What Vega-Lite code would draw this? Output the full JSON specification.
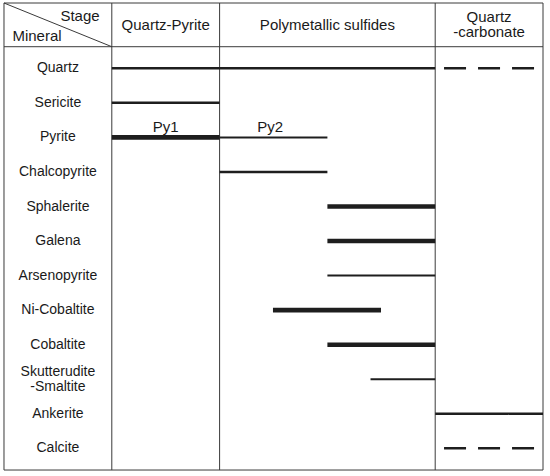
{
  "$schema": "https://vega.github.io/schema/vega-lite/v6.json",
  "width": 550,
  "height": 476,
  "autosize": {"type": "fit", "contains": "padding"},
  "padding": 0,
  "background": "white",
  "config": {"view": {"stroke": null}, "font": "Liberation Sans"},
  "datasets": {
    "grid": [
      {"part": "top", "x": 0, "x2": 5, "y": -1.89, "y2": -1.89},
      {"part": "bottom", "x": 0, "x2": 5, "y": 11.627, "y2": 11.627},
      {"part": "header", "x": 0, "x2": 5, "y": -0.625, "y2": -0.625},
      {"part": "left", "x": 0, "x2": 0, "y": -1.89, "y2": 11.627},
      {"part": "stage1", "x": 1, "x2": 1, "y": -1.89, "y2": 11.627},
      {"part": "stage2", "x": 2, "x2": 2, "y": -1.89, "y2": 11.627},
      {"part": "stage3", "x": 4, "x2": 4, "y": -1.89, "y2": 11.627},
      {"part": "right", "x": 5, "x2": 5, "y": -1.89, "y2": 11.627},
      {"part": "diagonal", "x": 0, "x2": 1, "y": -1.89, "y2": -0.625}
    ],
    "minerals": [
      {"mineral": "Quartz", "row": 0},
      {"mineral": "Sericite", "row": 1},
      {"mineral": "Pyrite", "row": 2},
      {"mineral": "Chalcopyrite", "row": 3},
      {"mineral": "Sphalerite", "row": 4},
      {"mineral": "Galena", "row": 5},
      {"mineral": "Arsenopyrite", "row": 6},
      {"mineral": "Ni-Cobaltite", "row": 7},
      {"mineral": "Cobaltite", "row": 8},
      {"mineral": "Ankerite", "row": 10},
      {"mineral": "Calcite", "row": 11}
    ],
    "bars": [
      {"mineral": "Quartz", "row": 0, "start": 1, "end": 4, "weight": "thin", "style": "solid"},
      {"mineral": "Quartz", "row": 0, "start": 4.082, "end": 4.92, "weight": "thin", "style": "dashed"},
      {"mineral": "Sericite", "row": 1, "start": 1, "end": 2, "weight": "thin", "style": "solid"},
      {"mineral": "Pyrite", "row": 2, "start": 1, "end": 2, "weight": "thick", "style": "solid"},
      {"mineral": "Pyrite", "row": 2, "start": 2, "end": 3, "weight": "fine", "style": "solid"},
      {"mineral": "Chalcopyrite", "row": 3, "start": 2, "end": 3, "weight": "thin", "style": "solid"},
      {"mineral": "Sphalerite", "row": 4, "start": 3, "end": 4, "weight": "thick", "style": "solid"},
      {"mineral": "Galena", "row": 5, "start": 3, "end": 4, "weight": "thick", "style": "solid"},
      {"mineral": "Arsenopyrite", "row": 6, "start": 3, "end": 4, "weight": "fine", "style": "solid"},
      {"mineral": "Ni-Cobaltite", "row": 7, "start": 2.495, "end": 3.497, "weight": "thick", "style": "solid"},
      {"mineral": "Cobaltite", "row": 8, "start": 3, "end": 4, "weight": "thick", "style": "solid"},
      {"mineral": "Skutterudite-Smaltite", "row": 9, "start": 3.4, "end": 4, "weight": "fine", "style": "solid"},
      {"mineral": "Ankerite", "row": 10, "start": 4, "end": 5, "weight": "thin", "style": "solid"},
      {"mineral": "Calcite", "row": 11, "start": 4.082, "end": 4.92, "weight": "thin", "style": "dashed"}
    ]
  },
  "layer": [
    {
      "data": {"name": "grid"},
      "mark": {"type": "rule", "color": "#3a3a3a", "strokeWidth": 1},
      "encoding": {
        "x": {"field": "x", "type": "quantitative", "scale": {"domain": [-0.0371, 5.0649], "nice": false, "zero": false}, "axis": null},
        "x2": {"field": "x2"},
        "y": {"field": "y", "type": "quantitative", "scale": {"domain": [-1.977, 11.8], "nice": false, "zero": false, "reverse": true}, "axis": null},
        "y2": {"field": "y2"}
      }
    },
    {
      "data": {"name": "bars"},
      "mark": {"type": "rule", "color": "#1e1e1e", "strokeCap": "butt"},
      "encoding": {
        "x": {"field": "start", "type": "quantitative"},
        "x2": {"field": "end"},
        "y": {"field": "row", "type": "quantitative"},
        "strokeWidth": {"condition": [{"test": "datum.weight === 'thick'", "value": 4.6}, {"test": "datum.weight === 'thin'", "value": 2.5}], "value": 2},
        "strokeDash": {"condition": {"test": "datum.style === 'dashed'", "value": [22, 12]}, "value": [1, 0]}
      }
    },
    {
      "data": {"name": "minerals"},
      "mark": {"type": "text", "fontSize": 14, "color": "#1a1a1a", "align": "center", "baseline": "middle"},
      "encoding": {
        "x": {"datum": 0.5, "type": "quantitative"},
        "y": {"field": "row", "type": "quantitative"},
        "text": {"field": "mineral"}
      }
    },
    {
      "data": {"values": [{"mineral": "Skutterudite\n-Smaltite", "row": 9}]},
      "mark": {"type": "text", "fontSize": 14, "color": "#1a1a1a", "align": "center", "baseline": "middle", "lineBreak": "\n", "lineHeight": 14.6, "dy": -7.2},
      "encoding": {
        "x": {"datum": 0.5, "type": "quantitative"},
        "y": {"field": "row", "type": "quantitative"},
        "text": {"field": "mineral"}
      }
    },
    {
      "data": {"values": [{"label": "Stage"}]},
      "mark": {"type": "text", "fontSize": 15, "color": "#1a1a1a", "align": "center", "baseline": "middle"},
      "encoding": {"x": {"datum": 0.705, "type": "quantitative"}, "y": {"datum": -1.522, "type": "quantitative"}, "text": {"field": "label"}}
    },
    {
      "data": {"values": [{"label": "Mineral"}]},
      "mark": {"type": "text", "fontSize": 15, "color": "#1a1a1a", "align": "center", "baseline": "middle"},
      "encoding": {"x": {"datum": 0.306, "type": "quantitative"}, "y": {"datum": -0.935, "type": "quantitative"}, "text": {"field": "label"}}
    },
    {
      "data": {"values": [{"label": "Quartz-Pyrite", "mid": 1.5}, {"label": "Polymetallic sulfides", "mid": 3.0}]},
      "mark": {"type": "text", "fontSize": 15, "color": "#1a1a1a", "align": "center", "baseline": "middle"},
      "encoding": {"x": {"field": "mid", "type": "quantitative"}, "y": {"datum": -1.265, "type": "quantitative"}, "text": {"field": "label"}}
    },
    {
      "data": {"values": [{"label": "Quartz\n-carbonate", "mid": 4.5}]},
      "mark": {"type": "text", "fontSize": 15, "color": "#1a1a1a", "align": "center", "baseline": "middle", "lineBreak": "\n", "lineHeight": 15.6},
      "encoding": {"x": {"field": "mid", "type": "quantitative"}, "y": {"datum": -1.49, "type": "quantitative"}, "text": {"field": "label"}}
    },
    {
      "data": {"values": [{"label": "Py1", "mid": 1.5}, {"label": "Py2", "mid": 2.47}]},
      "mark": {"type": "text", "fontSize": 15, "color": "#1a1a1a", "align": "center", "baseline": "middle"},
      "encoding": {"x": {"field": "mid", "type": "quantitative"}, "y": {"datum": 1.69, "type": "quantitative"}, "text": {"field": "label"}}
    }
  ]
}
